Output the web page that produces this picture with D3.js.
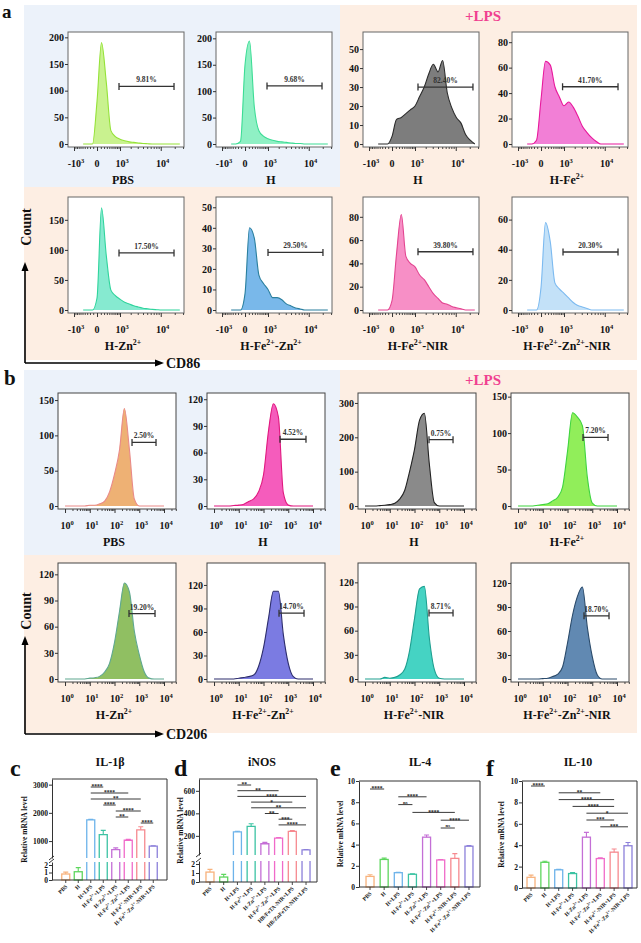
<!DOCTYPE html>
<html><head><meta charset="utf-8">
<script src="https://cdn.jsdelivr.net/npm/d3@7"></script>
<style>body{margin:0;background:#fff}svg{display:block}text{font-family:"Liberation Serif","Times New Roman",serif;font-weight:bold}</style>
</head><body><svg id="c" width="641" height="943"></svg>
<script>
// ---------------- DATA ----------------
const flowNames = ["PBS","H","H","H-Fe^{2+}","H-Zn^{2+}","H-Fe^{2+}-Zn^{2+}","H-Fe^{2+}-NIR","H-Fe^{2+}-Zn^{2+}-NIR"];
// CD86 (panel a) histogram bins (biexponential axis)
const gridA = [-470,-280,-120,0,120,280,470,700,1000,1370,1830,2400,3100,4000,5100,6500,8200,10300,13000,16300,20500,25600];
const cd86PBS      = [0,0,0,80,190,115,25,14,9,6,4,3,2,1,0.5,0,0,0,0,0,0,0];
const cd86H        = [0,0,5,150,195,70,25,15,10,7,5,4,3,2,1,1,0,0,0,0,0,0];
const cd86HLps     = [0,0,0,4,13,14,16,18,20,25,30,37,42,38,44,27,19,14,11,5,2,0];
const cd86HFe      = [0,0,3,35,65,62,45,37,30,33,29,22,14,9,5,2,0,0,0,0,0,0];
const cd86HZn      = [0,0,0,20,170,90,33,24,18,13,10,7,5,3,2,1,0.5,0,0,0,0,0];
const cd86HFeZn    = [0,0,0,8,40,35,17,13,10,6,6,5,3,2,1,0.5,0,0,0,0,0,0];
const cd86HFeNir   = [0,0,0,8,48,82,46,40,37,30,26,20,14,10,6,5,3,2,1,0,0,0];
const cd86HFeZnNir = [0,0,0,15,58,45,18,14,11,8,5,3,2,1,0,0,0,0,0,0,0,0];
const cd86Gates = [[930,19300],[930,19300],[1230,23400],[900,19300],[930,19300],[1000,20200],[1230,23400],[930,19300]];
const cd86GateLevel = [108,110,30,45,95,28,50,38.5];
const cd86Pct = ["9.81%","9.68%","82.40%","41.70%","17.50%","29.50%","39.80%","20.30%"];
const cd86YTicks = [[0,50,100,150,200],[0,50,100,150,200],[0,10,20,30,40,50],[0,20,40,60,80],[0,50,100,150],[0,10,20,30,40,50],[0,20,40,60,80],[0,20,40,60]];
const cd86YTop = [210,212,59,88,188,55,97,75];
const cd86XTicks = [-1000,0,1000,10000];
const cd86XLabels = ["-10^{3}","0","10^{3}","10^{4}"];
// CD206 (panel b) histogram bins (log axis)
const gridB = [1,1.6,2.5,4,6.3,10,16,25,40,63,100,160,250,400,630,1000,1600,2500,4000,6300,10000];
const cd206PBS      = [0,0,0,0,0,1,1,3,7,20,45,80,138,80,10,0,0,0,0,0,0];
const cd206H        = [0,0,0,0,0.5,1,2,5,8,16,35,85,115,100,15,1,0,0,0,0,0];
const cd206HLps     = [0,0,0,1,2,4,8,20,45,100,165,250,270,120,10,0,0,0,0,0,0];
const cd206HFe      = [0,0,0,0,1,2,3,7,12,26,75,128,122,110,40,4,0,0,0,0,0];
const cd206HZn      = [0,0,0,0,0,1,1.5,3,8,18,42,78,110,100,55,28,8,1,0,0,0];
const cd206HFeZn    = [0,0,0,0,0,1,2,3,5,16,40,78,112,112,57,20,3,0,0,0,0];
const cd206HFeNir   = [0,0,0,0,2,1,2,5,12,35,75,112,115,50,12,1,0,0,0,0,0];
const cd206HFeZnNir = [0,0,0,0,0,0.5,1,3,6,15,45,80,103,115,65,28,5,0,0,0,0];
const cd206Gates = [[510,4750],[464,5200],[385,3600],[423,4330],[385,4330],[423,4330],[385,3600],[464,4750]];
const cd206GateLevel = [90,75,193,94,75,84,82,79];
const cd206Pct = ["2.50%","4.52%","0.75%","7.20%","19.20%","14.70%","8.71%","18.70%"];
const cd206YTicks = [[0,50,100,150],[0,30,60,90,120],[0,100,200,300],[0,50,100,150],[0,30,60,90,120],[0,30,60,90,120],[0,30,60,90,120],[0,30,60,90,120]];
const cd206YTop = [160,127,329,155,133,148,144,145];
const cd206XTicks = [1,10,100,1000,10000];
const cd206XLabels = ["10^{0}","10^{1}","10^{2}","10^{3}","10^{4}"];
const cd86Fill   = ["#c9f28f","#8ff0c4","#7d7d7d","#f27fd6","#86ead0","#79b8ea","#f78fc6","#c3e1f8"];
const cd86Stroke = ["#95e238","#3cdc95","#2b2b2b","#e8189c","#2fd49c","#2a7f9e","#e34591","#7cbaf0"];
const cd206Fill   = ["#eeb174","#f55cbc","#8a8a8a","#91ee5a","#90bf62","#7b7be2","#45d3c3","#6189b2"];
const cd206Stroke = ["#e98a88","#e0187f","#222222","#3fd43f","#5fa890","#2d2d6c","#1f9f90","#2a4a6a"];
// qPCR (panels c-f)
const groups  = ["PBS","H","H+LPS","H-Fe^{2+}+LPS","H-Zn^{2+}+LPS","H-Fe^{2+}-Zn^{2+}+LPS","H-Fe^{2+}-NIR+LPS","H-Fe^{2+}-Zn^{2+}-NIR+LPS"];
const groupsD = ["PBS","H","H+LPS","H-Fe^{2+}+LPS","H-Zn^{2+}+LPS","H-Fe^{2+}-Zn^{2+}+LPS","HB/FeTA-NIR+LPS","HB/ZnFeTA-NIR+LPS"];
const il1b = [0.8,1.1,1750,1230,700,1030,1400,820];
const il1bErr = [0.25,0.55,20,150,60,30,110,15];
const inos = [1.1,0.55,235,285,130,180,240,75];
const inosErr = [0.3,0.3,6,22,12,6,8,4];
const il4 = [1.0,2.6,1.35,1.2,4.7,2.55,2.7,3.85];
const il4Err = [0.15,0.12,0.03,0.05,0.2,0.05,0.45,0.05];
const il10 = [1.0,2.4,1.7,1.35,4.75,2.75,3.35,3.95];
const il10Err = [0.2,0.1,0.04,0.1,0.45,0.08,0.3,0.3];
const sigIl1b = [[2,3,"****"],[2,5,"****"],[2,6,"**"],[3,4,"****"],[4,6,"****"],[4,5,"**"],[6,7,"****"]];
const sigInos = [[2,3,"**"],[2,5,"**"],[2,7,"****"],[3,6,"*"],[3,7,"**"],[4,5,"**"],[5,6,"***"],[5,7,"****"]];
const sigIl4  = [[0,1,"****"],[2,4,"****"],[2,3,"ns"],[3,6,"****"],[5,7,"****"],[5,6,"ns"]];
const sigIl10 = [[0,1,"****"],[2,5,"**"],[2,6,"****"],[3,6,"****"],[4,7,"*"],[4,6,"***"],[5,7,"***"]];
const barColors = ["#f8b27c","#5ed65e","#6db3ea","#3cc3a3","#c46fd6","#f06ac9","#f6898f","#8c80da"];

// ---------------- DRAWING ----------------
const svg = d3.select("#c");
const FONT = '"Liberation Serif","Times New Roman",serif';
function rich(t, str, fs, supScale){
  const parts = str.split(/(\^\{[^}]*\})/).filter(s=>s);
  let up=false; const sh=fs*0.42;
  parts.forEach(p=>{
    if(p.startsWith("^{")){
      t.append("tspan").attr("dy",-sh).attr("font-size",fs*(supScale||0.65)).text(p.slice(2,-1)); up=true;
    } else { t.append("tspan").attr("dy",up?sh:0).text(p); up=false; }
  });
  return t;
}
function txt(x,y,s,fs,anchor,fill){
  const t=svg.append("text").attr("x",x).attr("y",y).attr("font-size",fs)
    .attr("text-anchor",anchor||"start").attr("fill",fill||"#111");
  return rich(t,s,fs);
}
// backgrounds
const BLUE="#ecf2fa", ORANGE="#fdeee3";
[[24,5,316,182,BLUE],[340,5,297,182,ORANGE],[24,187,613,173,ORANGE],
 [24,370,316,185,BLUE],[340,370,297,185,ORANGE],[24,555,613,178,ORANGE]].forEach(r=>{
  svg.append("rect").attr("x",r[0]).attr("y",r[1]).attr("width",r[2]).attr("height",r[3]).attr("fill",r[4]);
});
txt(2,18,"a",19); txt(4,385,"b",21);
txt(483,21,"+LPS",15,"middle","#f0408f");
txt(483,385,"+LPS",15,"middle","#f0408f");

let clipN=0;
function flowPlot(x0,y0,w,h,xs,grid,counts,yTop,yTicks,gate,gLevel,pct,name,fill,stroke,xTicks,xLabels,minor,frameCol){
  const g=svg.append("g");
  const x=xs.copy().range([x0,x0+w]);
  const y=d3.scaleLinear().domain([-3*yTop/(h-3),yTop]).range([y0+h,y0]);
  g.append("rect").attr("x",x0).attr("y",y0).attr("width",w).attr("height",h).attr("fill","#fff");
  const id="cl"+(clipN++);
  g.append("clipPath").attr("id",id).append("rect").attr("x",x0).attr("y",y0).attr("width",w).attr("height",h);
  const data=grid.map((v,i)=>[v,counts[i]]);
  const area=d3.area().x(d=>x(d[0])).y0(y(0)).y1(d=>y(d[1])).curve(d3.curveMonotoneX);
  const line=d3.line().x(d=>x(d[0])).y(d=>y(d[1])).curve(d3.curveMonotoneX);
  g.append("path").attr("d",area(data)).attr("fill",fill).attr("clip-path",`url(#${id})`);
  g.append("path").attr("d",line(data)).attr("fill","none").attr("stroke",stroke).attr("stroke-width",1.1).attr("clip-path",`url(#${id})`);
  g.append("rect").attr("x",x0).attr("y",y0).attr("width",w).attr("height",h).attr("fill","none").attr("stroke",frameCol).attr("stroke-width",1);
  const ya=g.append("g").attr("transform",`translate(${x0},0)`).call(d3.axisLeft(y).tickValues(yTicks).tickSize(3).tickPadding(1).tickFormat(d3.format("d")));
  ya.select(".domain").remove();
  ya.selectAll("line").attr("stroke","#333");
  ya.selectAll("text").attr("font-size",10).attr("font-family",FONT).attr("font-weight","bold").attr("fill","#111");
  const xm=g.append("g").attr("transform",`translate(0,${y0+h})`).call(d3.axisBottom(x).tickValues(minor).tickSize(2).tickFormat(""));
  xm.select(".domain").remove(); xm.selectAll("line").attr("stroke","#444");
  const xa=g.append("g").attr("transform",`translate(0,${y0+h})`).call(d3.axisBottom(x).tickValues(xTicks).tickSize(4).tickFormat(""));
  xa.select(".domain").remove(); xa.selectAll("line").attr("stroke","#333");
  xTicks.forEach((v,i)=>txt(x(v)+(xLabels[i]==="0"?0:2),y0+h+20,xLabels[i],10,"middle"));
  // gate
  const gy=y(gLevel), gx0=x(gate[0]), gx1=x(gate[1]);
  g.append("path").attr("d",`M${gx0},${gy}H${gx1}M${gx0},${gy-3.5}V${gy+3.5}M${gx1},${gy-3.5}V${gy+3.5}`)
    .attr("stroke","#333").attr("stroke-width",1.3).attr("fill","none");
  txt((gx0+gx1)/2,gy-4,pct,7.5,"middle","#333");
  txt(x0+w/2-3,y0+h+37,name,12,"middle");
}
// panel a
const symA=d3.scaleSymlog().constant(500).domain([-1500,31400]);
const minorA=[...d3.range(-900,0,100),...d3.range(100,1000,100),...d3.range(2000,10000,1000),20000,30000];
const cd86All=[cd86PBS,cd86H,cd86HLps,cd86HFe,cd86HZn,cd86HFeZn,cd86HFeNir,cd86HFeZnNir];
const colA=[68,216,363,512], rowA=[[32,115],[197,116]];
cd86All.forEach((c,i)=>{
  const r=rowA[Math.floor(i/4)], x0=colA[i%4];
  flowPlot(x0,r[0],116,r[1],symA,gridA,c,cd86YTop[i],cd86YTicks[i],cd86Gates[i],cd86GateLevel[i],cd86Pct[i],flowNames[i],cd86Fill[i],cd86Stroke[i],cd86XTicks,cd86XLabels,minorA,"#666");
});
// panel b
const logB=d3.scaleLog().domain([0.52,30500]);
const minorB=[]; [1,10,100,1000,10000].forEach(d=>{for(let k=2;k<10;k++){if(d*k<30500)minorB.push(d*k);}});
const cd206All=[cd206PBS,cd206H,cd206HLps,cd206HFe,cd206HZn,cd206HFeZn,cd206HFeNir,cd206HFeZnNir];
const colB=[58,207,358,511], rowB=[[393,116],[563,119]];
cd206All.forEach((c,i)=>{
  const r=rowB[Math.floor(i/4)], x0=colB[i%4];
  flowPlot(x0,r[0],118,r[1],logB,gridB,c,cd206YTop[i],cd206YTicks[i],cd206Gates[i],cd206GateLevel[i],cd206Pct[i],flowNames[i],cd206Fill[i],cd206Stroke[i],cd206XTicks,cd206XLabels,minorB,"#444");
});
// axis arrows
function arrows(yBase,yTopA,countY,label){
  svg.append("path").attr("d",`M25,${yBase}V${yTopA+7}M25,${yBase}H156`).attr("stroke","#000").attr("stroke-width",1.6).attr("fill","none");
  svg.append("path").attr("d",`M25,${yTopA}L21.5,${yTopA+9}L28.5,${yTopA+9}Z`).attr("fill","#000");
  svg.append("path").attr("d",`M164,${yBase}L155,${yBase-3.5}L155,${yBase+3.5}Z`).attr("fill","#000");
  svg.append("text").attr("transform",`translate(31,${countY}) rotate(-90)`).attr("text-anchor","middle").attr("font-size",14).attr("fill","#111").text("Count");
  txt(166,yBase+5,label,14);
}
arrows(363,262,227,"CD86");
arrows(734,636,611,"CD206");

// bar panels
function barPanel(o){
  const xs=d3.scalePoint().domain(d3.range(8)).range([o.x0,o.x1]).padding(o.pad);
  const g=svg.append("g");
  let yl,yu;
  if(o.broken){
    yl=d3.scaleLinear().domain(o.lowDom).range([o.yBot,o.lowTop]);
    yu=d3.scaleLinear().domain(o.upDom).range([o.upBot,o.yTop]);
  } else yl=d3.scaleLinear().domain(o.dom).range([o.yBot,o.yTop]);
  const bw=8;
  o.vals.forEach((v,i)=>{
    const cx=xs(i), c=barColors[i], e=o.errs[i];
    let topY, errY;
    if(o.broken && v>o.lowDom[1]){
      g.append("path").attr("d",`M${cx-bw/2},${o.yBot}V${o.lowTop}M${cx+bw/2},${o.yBot}V${o.lowTop}`).attr("stroke",c).attr("stroke-width",1.3).attr("fill","none");
      topY=yu(v); errY=yu(v+e);
      g.append("path").attr("d",`M${cx-bw/2},${o.upBot}V${topY}H${cx+bw/2}V${o.upBot}`).attr("stroke",c).attr("stroke-width",1.3).attr("fill","#fff");
    } else {
      topY=yl(v); errY=yl(v+e);
      g.append("rect").attr("x",cx-bw/2).attr("y",topY).attr("width",bw).attr("height",o.yBot-topY).attr("fill","#fff").attr("stroke",c).attr("stroke-width",1.3);
    }
    g.append("path").attr("d",`M${cx},${topY}V${errY}M${cx-2.5},${errY}H${cx+2.5}`).attr("stroke",c).attr("stroke-width",1.1).attr("fill","none");
    g.append("line").attr("x1",cx).attr("x2",cx).attr("y1",o.yBot).attr("y2",o.yBot+3).attr("stroke","#333").attr("stroke-width",0.9);
    const t=g.append("text").attr("transform",`translate(${cx+2},${o.yBot+7}) rotate(-45)`).attr("text-anchor","end").attr("font-size",5.6).attr("fill","#222");
    rich(t,o.cats[i],5.6,0.7);
  });
  // frame
  g.append("path").attr("d",`M${o.x0},${o.yTop}H${o.x1}V${o.yBot}H${o.x0}`).attr("fill","none").attr("stroke","#333").attr("stroke-width",1);
  const styleAx=a=>{a.selectAll("text").attr("font-size",7.5).attr("font-family",FONT).attr("font-weight","bold").attr("fill","#111");a.selectAll("path,line").attr("stroke","#333");};
  const a1=g.append("g").attr("transform",`translate(${o.x0},0)`).call(d3.axisLeft(yl).tickValues(o.ticksLow).tickSize(3).tickSizeOuter(0).tickPadding(1).tickFormat(d3.format("d")));
  styleAx(a1);
  if(o.broken){
    const a2=g.append("g").attr("transform",`translate(${o.x0},0)`).call(d3.axisLeft(yu).tickValues(o.ticksUp).tickSize(3).tickSizeOuter(0).tickPadding(1).tickFormat(d3.format("d")));
    styleAx(a2);
    g.append("path").attr("d",`M${o.x0-3},${o.lowTop+1}L${o.x0+2},${o.lowTop-3}M${o.x0-3},${o.upBot+2}L${o.x0+2},${o.upBot-2}`).attr("stroke","#333").attr("stroke-width",1);
  }
  // significance
  o.sig.forEach((s,k)=>{
    const yy=o.sigY0+k*o.sigStep, xa=xs(s[0]), xb=xs(s[1]);
    g.append("line").attr("x1",xa).attr("x2",xb).attr("y1",yy).attr("y2",yy).attr("stroke","#222").attr("stroke-width",0.9);
    const ns=s[2]==="ns";
    g.append("text").attr("x",(xa+xb)/2).attr("y",ns?yy-1:yy+1.4).attr("text-anchor","middle").attr("font-size",ns?4.8:5.5).attr("fill","#222").text(s[2]);
  });
  svg.append("text").attr("transform",`translate(${o.ylabX},${(o.yTop+o.yBot)/2}) rotate(-90)`).attr("text-anchor","middle").attr("font-size",7.5).attr("fill","#111").text("Relative mRNA level");
  txt(o.titleX,766,o.title,12,"middle");
  txt(o.letterX,776,o.letter,24);
}
barPanel({x0:52,x1:167,yTop:779,yBot:880,pad:1.1,broken:true,lowDom:[0,2.4],lowTop:862,upDom:[400,3200],upBot:858,
  ticksLow:[0,1,2],ticksUp:[1000,2000,3000],vals:il1b,errs:il1bErr,cats:groups,sig:sigIl1b,sigY0:787,sigStep:6,
  ylabX:27,title:"IL-1β",titleX:110,letter:"c",letterX:10});
barPanel({x0:199,x1:317,yTop:779,yBot:882,pad:0.8,broken:true,lowDom:[0,2.33],lowTop:861,upDom:[30,705],upBot:855,
  ticksLow:[0,1,2],ticksUp:[200,400,600],vals:inos,errs:inosErr,cats:groupsD,sig:sigInos,sigY0:785,sigStep:5.7,
  ylabX:183,title:"iNOS",titleX:262,letter:"d",letterX:174});
barPanel({x0:359,x1:480,yTop:781,yBot:887,pad:0.78,broken:false,dom:[0,10],
  ticksLow:[0,2,4,6,8,10],vals:il4,errs:il4Err,cats:groups,sig:sigIl4,sigY0:789,sigStep:7.8,
  ylabX:343,title:"IL-4",titleX:420,letter:"e",letterX:330});
barPanel({x0:522,x1:637,yTop:781,yBot:888,pad:0.65,broken:false,dom:[0,10],
  ticksLow:[0,2,4,6,8,10],vals:il10,errs:il10Err,cats:groups,sig:sigIl10,sigY0:786,sigStep:6.8,
  ylabX:504,title:"IL-10",titleX:578,letter:"f",letterX:486});
</script></body></html>
